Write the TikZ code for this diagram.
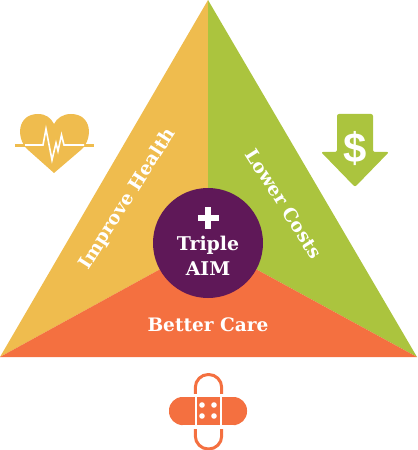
\documentclass[tikz,border=0pt]{standalone}
\usepackage{fontspec}
\setmainfont{DejaVu Serif}
\newfontfamily\dollarfont{Liberation Sans}
\definecolor{gold}{HTML}{EFBC4E}
\definecolor{leaf}{HTML}{ABC43E}
\definecolor{coral}{HTML}{F47040}
\definecolor{plum}{HTML}{5F1858}
\tikzset{
  label text/.style={text=white,font=\bfseries\fontsize{18.6}{20}\selectfont,inner sep=0pt},
  aim text/.style={text=white,font=\bfseries\fontsize{19}{24}\selectfont,inner sep=0pt,align=center},
}
\begin{document}
\begin{tikzpicture}[x=1bp,y=-1bp]
\useasboundingbox (0,0) rectangle (417,450);
% triangle
\fill[gold] (208,0) -- (208,243) -- (0,357) -- cycle;
\fill[leaf] (208,0) -- (417,357) -- (208,243) -- cycle;
\fill[coral] (0,357) -- (208,243) -- (417,357) -- cycle;
\node[circle,fill=plum,minimum size=110bp,inner sep=0pt] (hub) at (208,243) {};
\fill[white] (205,207.5) rectangle (211,228.5);
\fill[white] (197.5,215) rectangle (218.5,221);
\node[aim text] (triple) at (208,245) {Triple};
\node[aim text] (aim) at (208,269) {AIM};
\node[label text,rotate=57.5] (health) at (128,199) {Improve Health};
\node[label text,rotate=-57.5] (costs) at (284,203.5) {Lower Costs};
\node[label text] (care) at (208,325) {Better Care};
% heart
\fill[gold] (54,173) -- (27,149) .. controls (16,138) and (17,114) .. (38,114)
  .. controls (46,114) and (51,118) .. (54,124)
  .. controls (57,118) and (63,114) .. (71,114)
  .. controls (92,114) and (93,138) .. (82,149) -- cycle;
\draw[gold,line width=2.5bp] (15,145.5) -- (94,145.5);
\draw[white,line width=1.6bp,line join=miter] (25,145) -- (43,145) -- (46,129) -- (52,160) -- (56,143) -- (58,151) -- (61.5,135) -- (64,145) -- (84,145);
% arrow
\fill[leaf,rounded corners=2bp] (337,114) -- (373,114) -- (373,152) -- (389,152) -- (355,187) -- (321,152) -- (337,152) -- cycle;
\node[text=white,inner sep=0pt,font=\dollarfont\bfseries\fontsize{42}{42}\selectfont] (dollar) at (355,149) {\$};
% bandage
\draw[coral,line width=3bp,rounded corners=13bp] (195.3,374.5) rectangle (221.7,449);
\fill[white] (192,393.5) rectangle (225,428.5);
\fill[coral,rounded corners=13.5bp] (169,397) -- (194.5,397) -- (194.5,425) -- (169,425) -- cycle;
\fill[coral] (182,397) rectangle (194.5,425);
\fill[coral,rounded corners=13.5bp] (222,397) -- (247,397) -- (247,425) -- (222,425) -- cycle;
\fill[coral] (222,397) rectangle (234,425);
\fill[coral] (197,397) rectangle (220,425);
\foreach \px/\py in {202/405,214/405,202/416,214/416}
  \fill[white] (\px,\py) circle (2.8bp);
\end{tikzpicture}
\end{document}
